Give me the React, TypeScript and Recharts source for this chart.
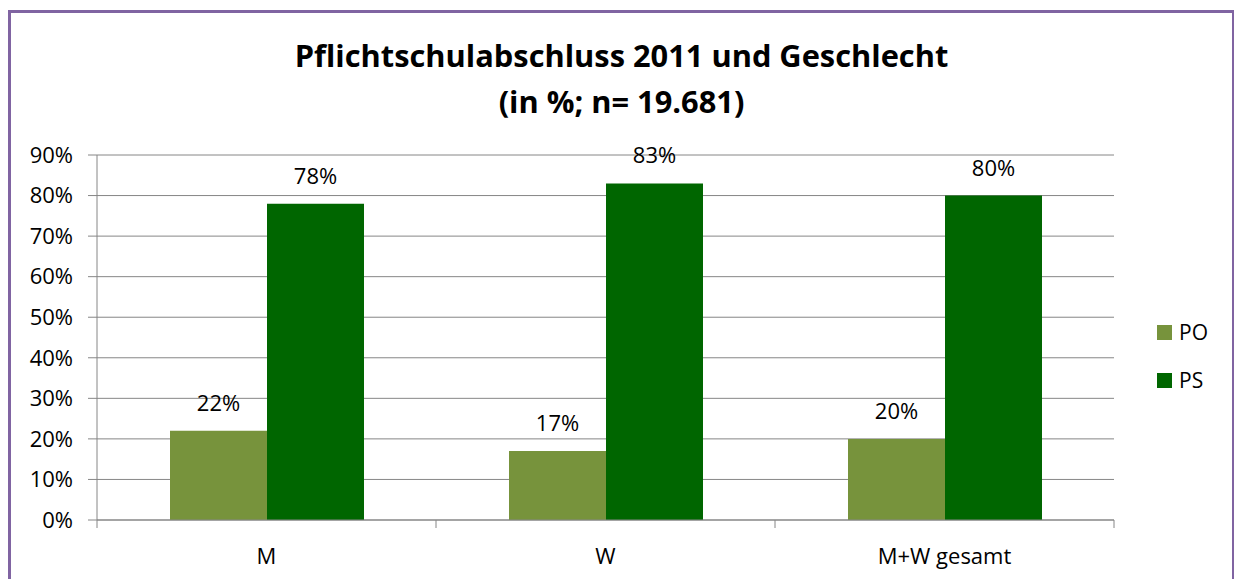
import React from 'react';
import { BarChart, Bar, XAxis, YAxis, CartesianGrid, Legend, LabelList } from 'recharts';

const categories = ['M', 'W', 'M+W gesamt'];
const poValues = [22, 17, 20];
const psValues = [78, 83, 80];
const yTicks = [0, 10, 20, 30, 40, 50, 60, 70, 80, 90];
const seriesNames = ['PO', 'PS'];
const seriesColors = ['#77933C', '#006600'];

const data = categories.map((name, i) => ({ name, PO: poValues[i], PS: psValues[i] }));

const FONT = '"Open Sans", sans-serif';
const GRID = '#868686';
const X_TICK_SIZE = 8;
const X_TICK_MARGIN = 20;

// category label plus Excel-style tick marks on the band edges
function CategoryTick(props: any): React.ReactNode {
  const { x, y, payload, index, visibleTicksCount } = props;
  const half = payload?.offset ?? 0;
  const axisY = y - X_TICK_SIZE - X_TICK_MARGIN;
  const isLast = index === visibleTicksCount - 1;
  return (
    <g>
      <line x1={x - half} x2={x - half} y1={axisY} y2={axisY + X_TICK_SIZE} stroke={GRID} />
      {isLast && <line x1={x + half} x2={x + half} y1={axisY} y2={axisY + X_TICK_SIZE} stroke={GRID} />}
      <text x={x} y={y} dy="0.71em" textAnchor="middle" fill="#000" fontSize={22} fontFamily={FONT}>
        {payload.value}
      </text>
    </g>
  );
}

function LegendBox(): React.ReactNode {
  return (
    <div style={{ fontFamily: FONT }}>
      {seriesNames.map((s, i) => (
        <div key={s} style={{ display: 'flex', alignItems: 'center', height: 48 }}>
          <span style={{ display: 'inline-block', width: 15, height: 15, background: seriesColors[i], marginRight: 7 }} />
          <span style={{ fontSize: 21, color: '#000' }}>{s}</span>
        </div>
      ))}
    </div>
  );
}

export default function App(): React.ReactNode {
  return (
    <>
      <style>{'body{margin:0;overflow:hidden;background:#fff}'}</style>
      <div
        style={{
          position: 'absolute',
          left: 8,
          top: 10,
          width: 1226,
          height: 600,
          boxSizing: 'border-box',
          borderTop: '3px solid #8064A2',
          borderLeft: '3px solid #8064A2',
          borderRight: '2px solid #8064A2',
          background: '#fff',
        }}
      >
        <div
          style={{
            position: 'absolute',
            left: 0,
            right: 0,
            top: 19,
            textAlign: 'center',
            fontFamily: FONT,
            fontWeight: 'bold',
            fontSize: 30.8,
            lineHeight: '46px',
            color: '#000',
          }}
        >
          <div>Pflichtschulabschluss 2011 und Geschlecht</div>
          <div>(in %; n= 19.681)</div>
        </div>
        <BarChart
          width={1221}
          height={587}
          data={data}
          barGap={0}
          margin={{ top: 142, right: 118, bottom: 40, left: 26 }}
          style={{ fontFamily: FONT }}
        >
          <CartesianGrid vertical={false} stroke={GRID} />
          <XAxis
            dataKey="name"
            height={40}
            axisLine={{ stroke: GRID }}
            tickLine={false}
            tickSize={X_TICK_SIZE}
            tickMargin={X_TICK_MARGIN}
            tick={<CategoryTick />}
          />
          <YAxis
            domain={[0, 90]}
            ticks={yTicks}
            width={60}
            tickFormatter={(v: number) => `${v}%`}
            axisLine={{ stroke: GRID }}
            tickLine={{ stroke: GRID }}
            tickSize={9}
            tickMargin={15}
            tick={{ fill: '#000', fontSize: 22 }}
          />
          <Legend
            layout="horizontal"
            verticalAlign="middle"
            align="center"
            wrapperStyle={{ left: 1146, top: 295, width: 80 }}
            content={() => <LegendBox />}
          />
          {seriesNames.map((s, i) => (
            <Bar key={s} dataKey={s} fill={seriesColors[i]} barSize={97} isAnimationActive={false}>
              <LabelList
                dataKey={s}
                position="top"
                offset={20}
                fill="#000"
                fontSize={22}
                fontFamily={FONT}
                formatter={(v: number) => `${v}%`}
              />
            </Bar>
          ))}
        </BarChart>
      </div>
    </>
  );
}
